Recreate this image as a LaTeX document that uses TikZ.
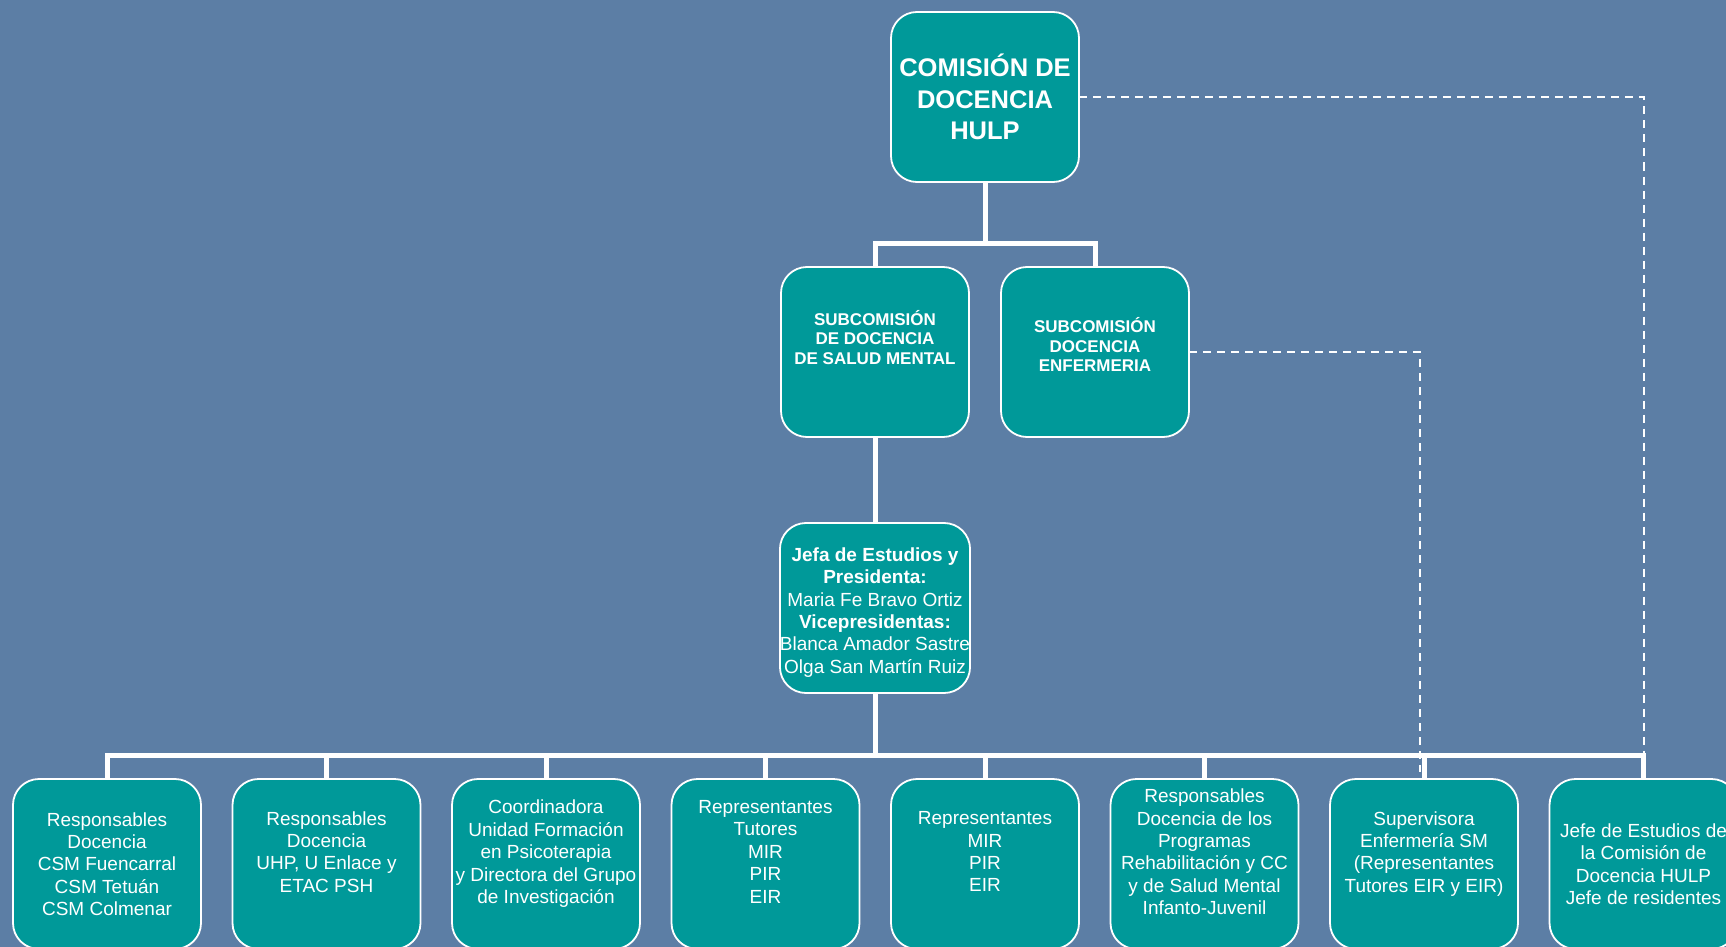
\documentclass[tikz,border=0pt]{standalone}
\usepackage{fontspec}
\setmainfont{Liberation Sans}
\usetikzlibrary{positioning}

\definecolor{slide}{RGB}{92,126,165}
\definecolor{boxteal}{RGB}{0,153,153}

% empty last line, pushes the text up in its box
\newcommand{\padline}[1]{\\[#1]\mbox{}}

\tikzset{
  unit/.style={draw=white, line width=1.8pt, fill=boxteal, rounded corners=26pt,
    minimum width=188pt, minimum height=170pt, inner sep=0pt, outer sep=0pt,
    text=white, align=center, font=\fontsize{19}{22.4}\selectfont},
  head/.style={unit, font=\bfseries\fontsize{25.5}{31.5}\selectfont},
  sub/.style={unit, font=\bfseries\fontsize{17}{19.5}\selectfont},
  link/.style={draw=white, line width=5pt},
  hint/.style={draw=white, line width=2pt, dash pattern=on 8pt off 6pt}
}

\begin{document}
\begin{tikzpicture}[x=1pt, y=-1pt]
  \useasboundingbox (0,0) rectangle (1726,947);
  \fill[slide] (0,0) rectangle (1726,947);
  \clip (0,0) rectangle (1726,947);

  % comision y subcomisiones
  \node[head] (com) at (985,97) {COMISIÓN DE\\DOCENCIA\\HULP};
  \node[sub] (sm) at (875,352) {SUBCOMISIÓN\\DE DOCENCIA\\DE SALUD MENTAL\padline{10pt}};
  \node[sub, right=32pt of sm] (enf) {SUBCOMISIÓN\\DOCENCIA\\ENFERMERIA\padline{-5pt}};
  \node[unit, below=86pt of sm] (jefa) {\mbox{}\\\textbf{Jefa de Estudios y}\\\textbf{Presidenta:}\\Maria Fe Bravo Ortiz\\\textbf{Vicepresidentas:}\\Blanca Amador Sastre\\Olga San Martín Ruiz};

  % fila inferior
  \node[unit] (r1) at (107,864) {Responsables\\Docencia\\CSM Fuencarral\\CSM Tetuán\\CSM Colmenar};
  \node[unit, right=31.5pt of r1] (r2) {Responsables\\Docencia\\UHP, U Enlace y\\ETAC PSH\padline{2pt}};
  \node[unit, right=31.5pt of r2] (r3) {Coordinadora\\Unidad Formación\\en Psicoterapia\\y Directora del Grupo\\de Investigación\padline{2pt}};
  \node[unit, right=31.5pt of r3] (r4) {Representantes\\Tutores\\MIR\\PIR\\EIR\padline{2pt}};
  \node[unit, right=31.5pt of r4] (r5) {Representantes\\MIR\\PIR\\EIR\padline{2pt}};
  \node[unit, right=31.5pt of r5] (r6) {Responsables\\Docencia de los\\Programas\\Rehabilitación y CC\\y de Salud Mental\\Infanto-Juvenil\padline{2pt}};
  \node[unit, right=31.5pt of r6] (r7) {Supervisora\\Enfermería SM\\(Representantes\\Tutores EIR y EIR)\padline{2pt}};
  \node[unit, right=31.5pt of r7] (r8) {Jefe de Estudios de\\la Comisión de\\Docencia HULP\\Jefe de residentes};

  \coordinate (fork1) at (985,243);
  \coordinate (fork2) at (875,755);
  \coordinate (tick) at (1420,772);

  % lineas discontinuas
  \draw[hint] (com.east) -- (com.east -| r8) -- (r8.north);
  \draw[hint] (enf.east) -- (enf.east -| tick) -- (tick);

  % organigrama
  \draw[link] (com) -- (fork1);
  \draw[link] (sm) |- (fork1) -| (enf);
  \draw[link] (sm) -- (jefa);
  \draw[link] (jefa) -- (fork2);
  \foreach \k in {1,...,8}
    \draw[link] (fork2) -| (r\k);
\end{tikzpicture}
\end{document}
